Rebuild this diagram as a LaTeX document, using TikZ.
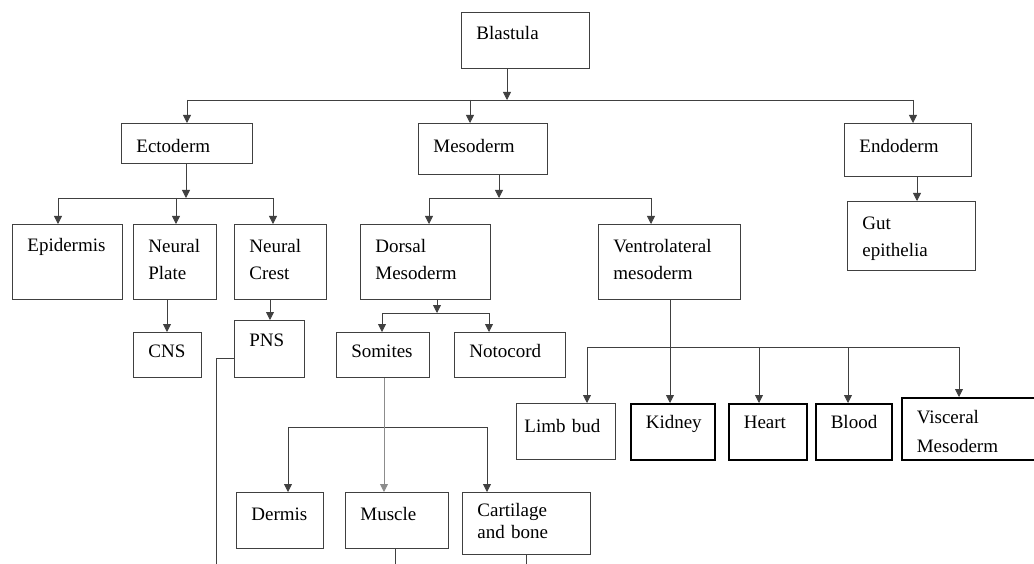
\documentclass[tikz,border=0pt]{standalone}
\usepackage{fontspec}
\setmainfont{Liberation Serif}
\usetikzlibrary{arrows.meta}

\tikzset{
    box/.style={draw=black!75, line width=0.8pt, anchor=north west, align=left,
        inner xsep=15pt, inner ysep=0pt, text height=27pt},
    boldbox/.style={box, draw=black, line width=1.6pt},
    link/.style={draw=black!75, line width=0.8pt},
    faint/.style={draw=black!45, line width=0.9pt},
    arr/.style={link, -{Triangle[width=8pt, length=8pt]}},
}

\begin{document}
\begin{tikzpicture}[x=1pt, y=-1pt, font=\fontsize{19pt}{27.5pt}\selectfont]
    \useasboundingbox (0,0) rectangle (1034,564);
    % Top level
    \node[box, text width=98pt, text depth=29pt] (blastula) at (461,12) {Blastula};
    % Germ layers
    \node[box, text width=101pt, text height=29pt, text depth=11pt] (ecto) at (121,123) {Ectoderm};
    \node[box, text width=99pt, text height=29pt, text depth=22pt] (meso) at (418,123) {Mesoderm};
    \node[box, text width=97pt, text height=29pt, text depth=24pt] (endo) at (844,123) {Endoderm};
    \node[box, text width=98pt, text height=28pt, text depth=41pt] (gut) at (847,201) {Gut\\epithelia};
    % Ectoderm branch
    \node[box, text width=80pt, text depth=48pt] (epid) at (12,224) {Epidermis};
    \node[box, text width=53pt, text height=28pt, text depth=47pt] (nplate) at (133,224) {Neural\\Plate};
    \node[box, text width=62pt, text height=28pt, text depth=47pt] (ncrest) at (234,224) {Neural\\Crest};
    \node[box, text width=38pt, text height=25pt, text depth=20pt] (cns) at (133,332) {CNS};
    \node[box, text width=40pt, text height=26pt, text depth=31pt] (pns) at (234,320) {PNS};
    % Mesoderm branch
    \node[box, text width=100pt, text height=28pt, text depth=47pt] (dorsal) at (360,224) {Dorsal\\Mesoderm};
    \node[box, text width=112pt, text height=28pt, text depth=47pt] (ventro) at (598,224) {Ventrolateral\\mesoderm};
    \node[box, text width=63pt, text height=25pt, text depth=20pt] (somites) at (336,332) {Somites};
    \node[box, text width=81pt, text height=25pt, text depth=20pt] (noto) at (454,332) {Notocord};
    \node[box, text width=57pt, text height=28pt, text depth=28pt] (dermis) at (236,492) {Dermis};
    \node[box, text width=73pt, text height=28pt, text depth=28pt] (muscle) at (345,492) {Muscle};
    \node[box, text width=98pt, text height=24pt, text depth=38pt] (cart) at (462,492) {Cartilage\\[-5pt]and bone};
    % Ventrolateral derivatives
    \node[box, inner xsep=8pt, text width=83pt, text height=29pt, text depth=27pt] (limb) at (516,403) {Limb bud};
    \node[boldbox, text width=54pt, text height=25pt, text depth=31pt] (kidney) at (630,403) {Kidney};
    \node[boldbox, text width=48pt, text height=25pt, text depth=31pt] (heart) at (728,403) {Heart};
    \node[boldbox, text width=46pt, text height=25pt, text depth=31pt] (blood) at (815,403) {Blood};
    \node[boldbox, text width=110pt, text height=26pt, text depth=36pt] (visc) at (901,397) {Visceral\\[1.5pt]Mesoderm};

    % Blastula to germ layers
    \coordinate (jA) at (507,100);
    \draw[arr] (blastula.south -| jA) -- (jA);
    \draw[link] (187,100 |- jA) -- (913,100 |- jA);
    \foreach \x/\n in {187/ecto, 470/meso, 913/endo}
        \draw[arr] (\x,100) -- (\x,100 |- \n.north);
    \draw[arr] (endo.south -| 917,0) -- (917,0 |- gut.north);
    % Ectoderm
    \coordinate (jB) at (186,198);
    \draw[arr] (ecto.south -| jB) -- (jB);
    \draw[link] (58,198) -- (273,198);
    \foreach \x/\n in {58/epid, 176/nplate, 273/ncrest}
        \draw[arr] (\x,198) -- (\x,198 |- \n.north);
    \draw[arr] (nplate.south -| 167,0) -- (167,0 |- cns.north);
    \draw[arr] (ncrest.south -| 270,0) -- (270,0 |- pns.north);
    \coordinate (pnsout) at (216,570);
    \draw[link] (pns.west |- 0,358) -| (pnsout);
    % Mesoderm
    \coordinate (jC) at (499,198);
    \draw[arr] (meso.south -| jC) -- (jC);
    \draw[link] (429,198) -- (651,198);
    \foreach \x/\n in {429/dorsal, 651/ventro}
        \draw[arr] (\x,198) -- (\x,198 |- \n.north);
    % Dorsal mesoderm
    \coordinate (jD) at (437,313);
    \draw[arr] (dorsal.south -| jD) -- (jD);
    \draw[link] (382,313) -- (489,313);
    \foreach \x/\n in {382/somites, 489/noto}
        \draw[arr] (\x,313) -- (\x,313 |- \n.north);
    % Somites
    \draw[link] (288,427) -- (487,427);
    \draw[faint, -{Triangle[width=8pt, length=8pt]}] (somites.south -| 384,0) -- (384,0 |- muscle.north);
    \foreach \x/\n in {288/dermis, 487/cart}
        \draw[arr] (\x,427) -- (\x,427 |- \n.north);
    \coordinate (muscleout) at (395,570);
    \coordinate (cartout) at (526,570);
    \draw[link] (muscle.south -| muscleout) -- (muscleout);
    \draw[link] (cart.south -| cartout) -- (cartout);
    % Ventrolateral mesoderm
    \coordinate (jF) at (670,347);
    \draw[link] (ventro.south -| jF) -- (jF);
    \draw[link] (587,347) -- (959,347);
    \foreach \x/\n in {587/limb, 670/kidney, 759/heart, 848/blood, 959/visc}
        \draw[arr] (\x,347) -- (\x,347 |- \n.north);
\end{tikzpicture}
\end{document}
